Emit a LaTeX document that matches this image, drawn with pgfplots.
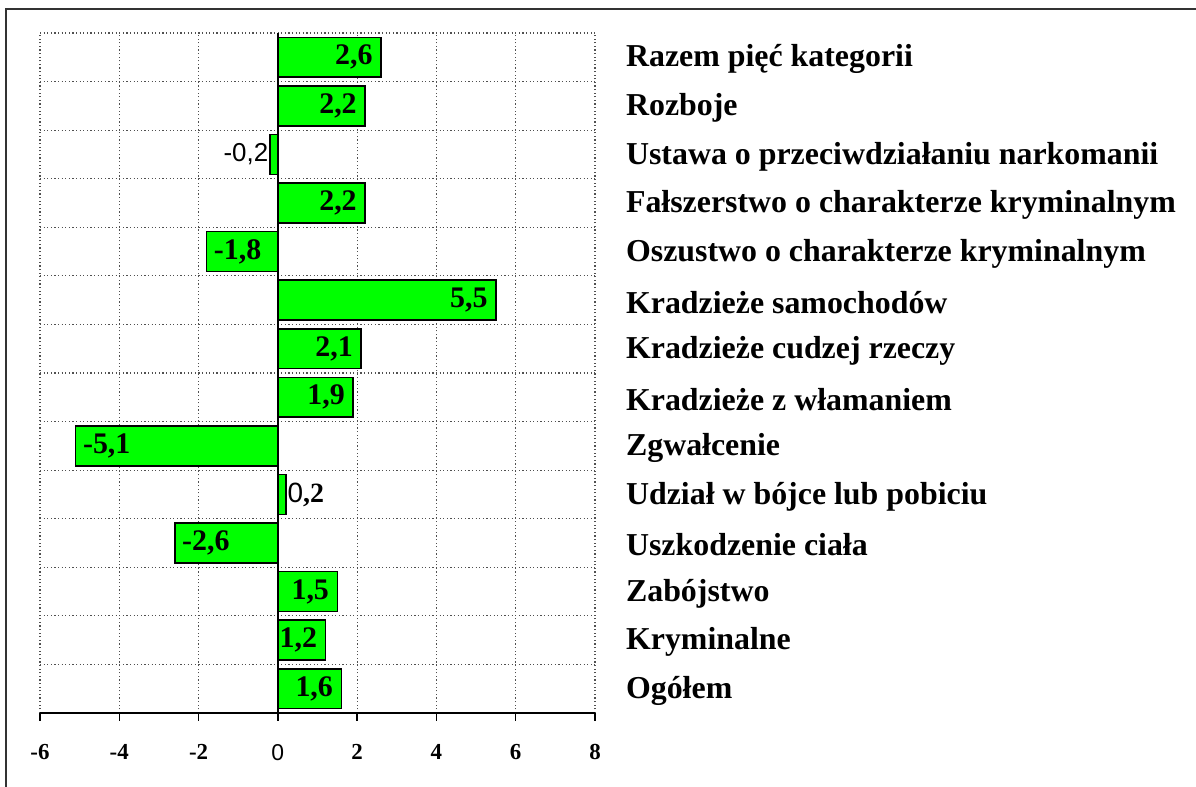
\documentclass[border=0pt]{standalone}
\usepackage{fontspec}
\setmainfont{Liberation Serif}
\setsansfont{Liberation Sans}
\usepackage{pgfplots}
\pgfplotsset{compat=1.18}
\definecolor{barg}{HTML}{00FF00}
\definecolor{gridg}{HTML}{505050}
\definecolor{frameg}{HTML}{333333}
\begin{document}
\begin{tikzpicture}
\useasboundingbox (0,0) rectangle (598bp,393.5bp);
\draw[line width=1.1bp, frameg] (3bp,0) -- (3bp,389bp) -- (598bp,389bp);
\begin{axis}[
  at={(20bp,37bp)}, anchor=south west,
  scale only axis, width=277.5bp, height=340bp,
  xmin=-6, xmax=8, ymin=-0.5, ymax=13.5,
  clip=false,
  axis x line*=bottom, axis y line*=right,
  x axis line style={-, black, line width=0.8bp},
  y axis line style={draw=none},
  xtick={-6,-4,...,8},
  xticklabels={\textbf{-6},\textbf{-4},\textbf{-2},{\sffamily 0},\textbf{2},\textbf{4},\textbf{6},\textbf{8}},
  xticklabel style={font=\fontsize{11.5}{13}\selectfont, yshift=-8bp},
  xtick style={black, line width=0.7bp},
  major tick length=4bp, tick align=outside,
  ytick={0,...,13},
  ytick style={draw=none},
  yticklabels={Ogółem,Kryminalne,Zabójstwo,Uszkodzenie ciała,Udział w bójce lub pobiciu,Zgwałcenie,Kradzieże z włamaniem,Kradzieże cudzej rzeczy,Kradzieże samochodów,Oszustwo o charakterze kryminalnym,Fałszerstwo o charakterze kryminalnym,Ustawa o przeciwdziałaniu narkomanii,Rozboje,Razem pięć kategorii},
  yticklabel style={anchor=west, font=\bfseries\fontsize{16}{18}\selectfont, xshift=8bp, yshift=-1bp},
  minor ytick={-0.5,0.5,...,13.5},
  xmajorgrids, yminorgrids,
  major grid style={dash pattern=on 0.6bp off 1.2bp, gridg, line width=0.6bp},
  minor grid style={dash pattern=on 0.6bp off 1.2bp, gridg, line width=0.6bp},
  extra x ticks={0}, extra x tick labels={},
  extra x tick style={grid=major, major grid style={black, solid, line width=0.8bp}, major tick length=0pt},
  xbar, bar width=0.82, bar shift=0pt,
]
\addplot[fill=barg, draw=black, line width=0.75bp,
  nodes near coords, point meta=explicit symbolic,
  every node near coord/.append style={anchor=east, xshift=-0.5bp, font=\bfseries\fontsize{15}{17}\selectfont}]
  coordinates {(1.6,0)[1,6] (1.2,1)[1,2] (1.5,2)[1,5] (1.9,6)[1,9] (2.1,7)[2,1] (5.5,8)[5,5] (2.2,10)[2,2] (2.2,12)[2,2] (2.6,13)[2,6]};
\addplot[fill=barg, draw=black, line width=0.75bp,
  nodes near coords, point meta=explicit symbolic,
  every node near coord/.append style={anchor=west, xshift=0bp, font=\bfseries\fontsize{15}{17}\selectfont}]
  coordinates {(-2.6,3)[-2,6] (-5.1,5)[-5,1] (-1.8,9)[-1,8]};
\addplot[fill=barg, draw=black, line width=0.75bp,
  nodes near coords={{\sffamily 0}\textbf{,2}},
  every node near coord/.append style={anchor=west, inner sep=0.5bp, font=\fontsize{14}{16}\selectfont}]
  coordinates {(0.2,4)};
\addplot[fill=barg, draw=black, line width=0.75bp,
  nodes near coords={\sffamily -0,2},
  every node near coord/.append style={anchor=east, inner sep=0.5bp, font=\fontsize{13}{15}\selectfont}]
  coordinates {(-0.2,11)};
\end{axis}
\end{tikzpicture}
\end{document}
